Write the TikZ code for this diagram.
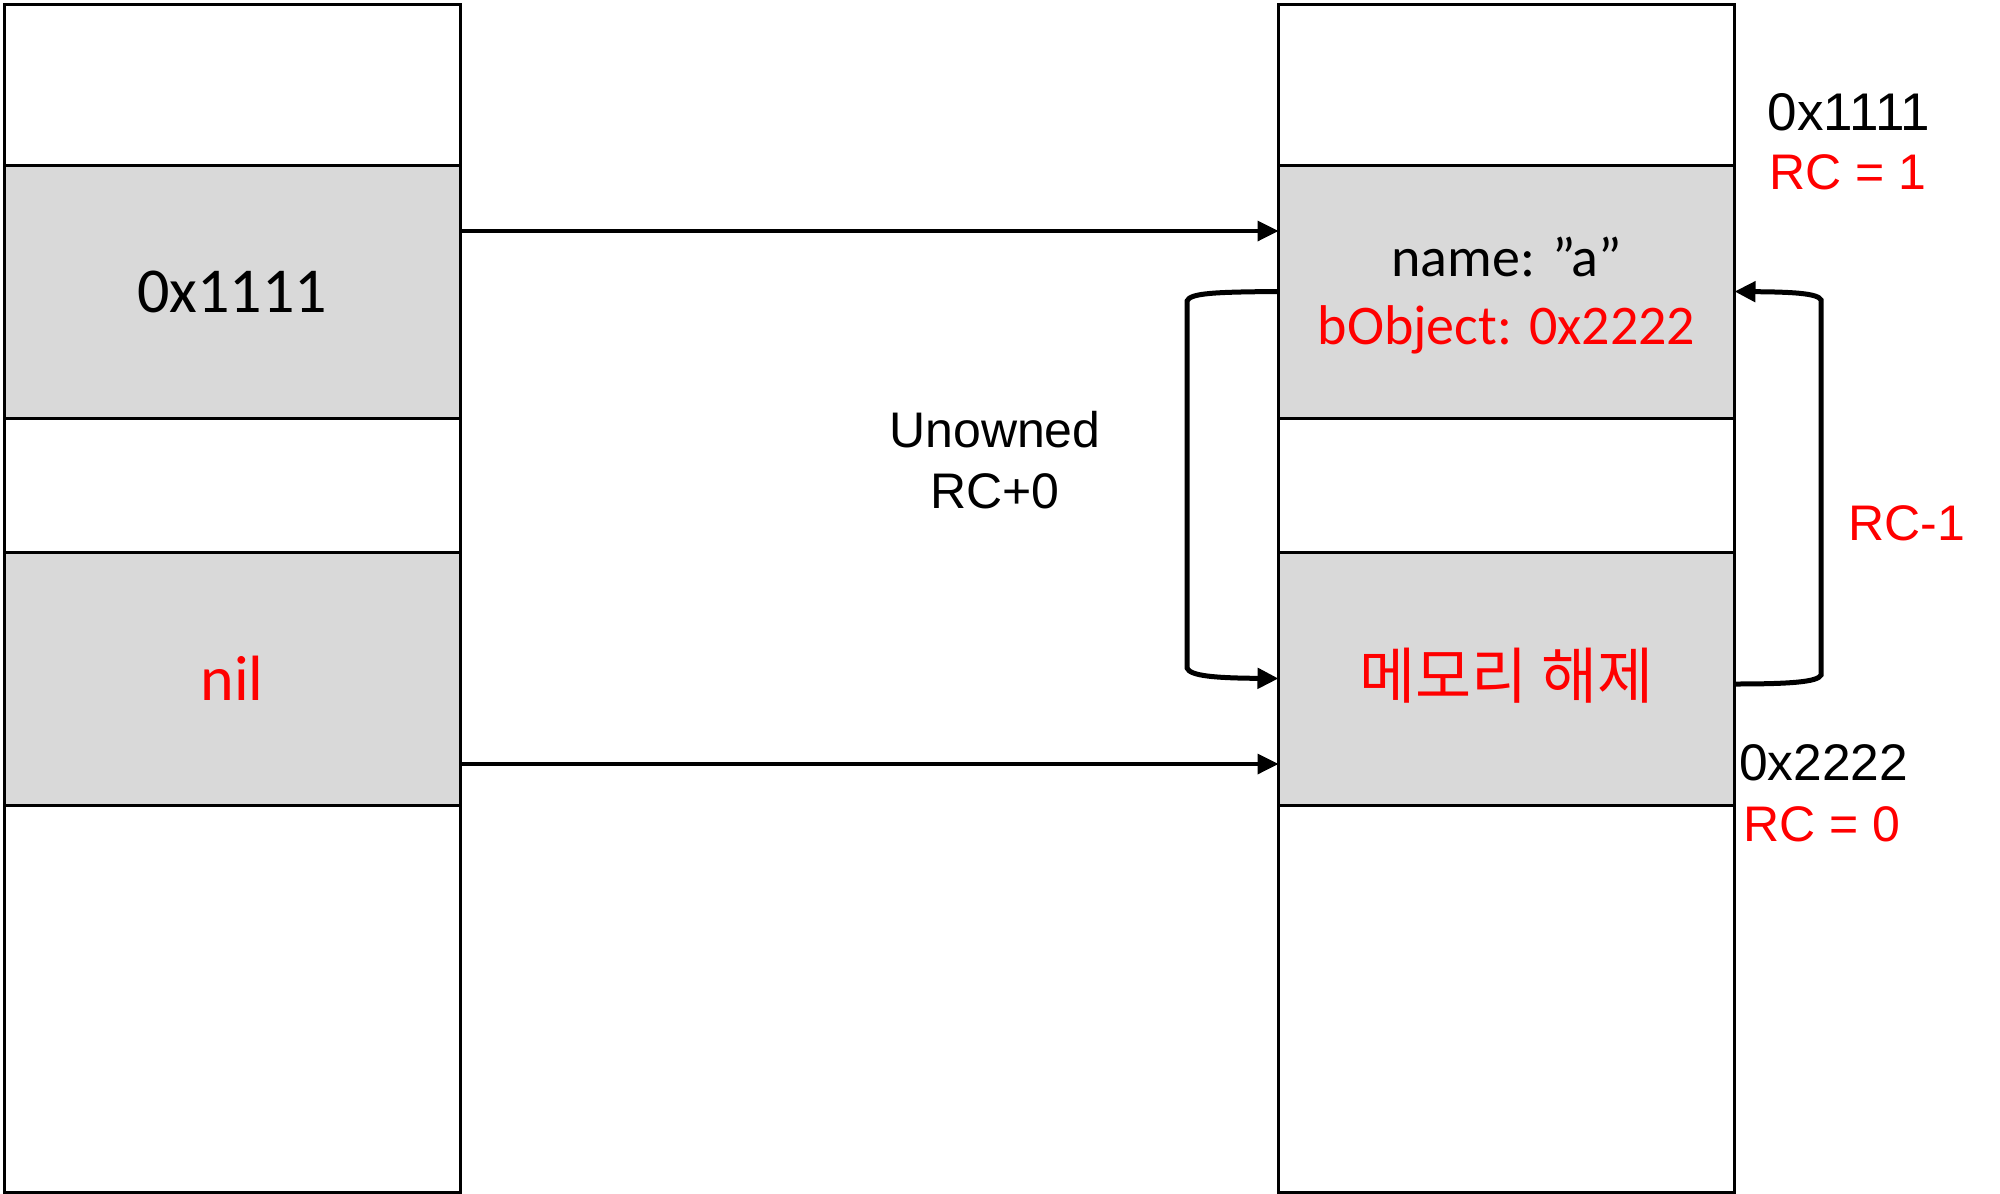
\documentclass[tikz,border=0pt]{standalone}
\usepackage{fontspec}
\setmainfont{Carlito}
\newfontfamily\arialf{Liberation Sans}
\newfontfamily\krfont{Noto Sans CJK KR}
\usetikzlibrary{arrows.meta}
\definecolor{cellgray}{HTML}{D9D9D9}
\definecolor{txtred}{HTML}{FF0000}
\tikzset{
  cell/.style={draw=black, line width=3pt, inner sep=0pt, outer sep=0pt, minimum width=456pt},
  graycell/.style={cell, fill=cellgray},
  whitecell/.style={cell, fill=white},
  arr/.style={line width=3.5pt, -{Triangle[length=21pt,width=20pt]}},
  looparr/.style={line width=5pt, -{Triangle[length=21pt,width=20pt]}},
  big/.style={font=\fontsize{64}{70}\selectfont, inner sep=0pt},
  mid/.style={font=\fontsize{56}{62}\selectfont, inner sep=0pt},
  lab/.style={font=\arialf\fontsize{50}{56}\selectfont, inner sep=0pt},
  hexlab/.style={font=\arialf\fontsize{53}{58}\selectfont, inner sep=0pt},
}
\begin{document}
\begin{tikzpicture}[x=1pt,y=-1pt]
\fill[white] (0,0) rectangle (2000,1194);
\useasboundingbox (0,0) rectangle (2000,1194);

% left column
\node[whitecell, minimum height=161pt] (L1) at (232,84.5) {};
\node[graycell,  minimum height=253pt] (L2) at (232,291.5) {};
\node[whitecell, minimum height=134pt] (L3) at (232,485) {};
\node[graycell,  minimum height=253pt] (L4) at (232,678.5) {};
\node[whitecell, minimum height=387pt] (L5) at (232,998.5) {};
% right column
\node[whitecell, minimum height=161pt] (R1) at (1506.5,84.5) {};
\node[graycell,  minimum height=253pt] (R2) at (1506.5,291.5) {};
\node[whitecell, minimum height=134pt] (R3) at (1506.5,485) {};
\node[graycell,  minimum height=253pt] (R4) at (1506.5,678.5) {};
\node[whitecell, minimum height=387pt] (R5) at (1506.5,998.5) {};

% cell texts
\node[big] (t1) at (L2.center) {0x1111};
\node[big, text=txtred] (t2) at (L4.center) {nil};
\node[mid, anchor=base] (t3) at (1506.5,276) {name: ”a”};
\node[mid, anchor=base, text=txtred] (t4) at (1506.5,344) {bObject: 0x2222};
\node[font=\krfont\fontsize{61}{64}\selectfont, inner sep=0pt, text=txtred] (t5) at (1506.5,676) {메모리 해제};

% outside labels
\node[lab, anchor=base] (u1) at (995,447) {Unowned};
\node[lab, anchor=base] (u2) at (995,508) {RC+0};
\node[hexlab, anchor=base] (h1) at (1849,130) {0x1111};
\node[lab, anchor=base, text=txtred] (h2) at (1848,189) {RC = 1};
\node[lab, anchor=base, text=txtred] (h3) at (1907,540) {RC-1};
\node[hexlab, font=\arialf\fontsize{51.5}{56}\selectfont, anchor=base west] (h4) at (1739,780) {0x2222};
\node[lab, anchor=base, text=txtred] (h5) at (1822,841) {RC = 0};

% horizontal arrows
\coordinate (ya) at (0,231);
\coordinate (yb) at (0,764);
\draw[arr] (L2.east |- ya) -- (R2.west |- ya);
\draw[arr] (L4.east |- yb) -- (R4.west |- yb);

% left loop
\draw[looparr] (R2.west) .. controls (1215,292) and (1190,293) .. (1187,301)
  -- (1187,668) .. controls (1190,676) and (1215,678) .. (R4.west);
% right loop
\coordinate (yr) at (0,684);
\draw[looparr] (R4.east |- yr) .. controls (1790,684) and (1818,682) .. (1821,675)
  -- (1821,300) .. controls (1818,293) and (1790,292) .. (R2.east);
\end{tikzpicture}
\end{document}
